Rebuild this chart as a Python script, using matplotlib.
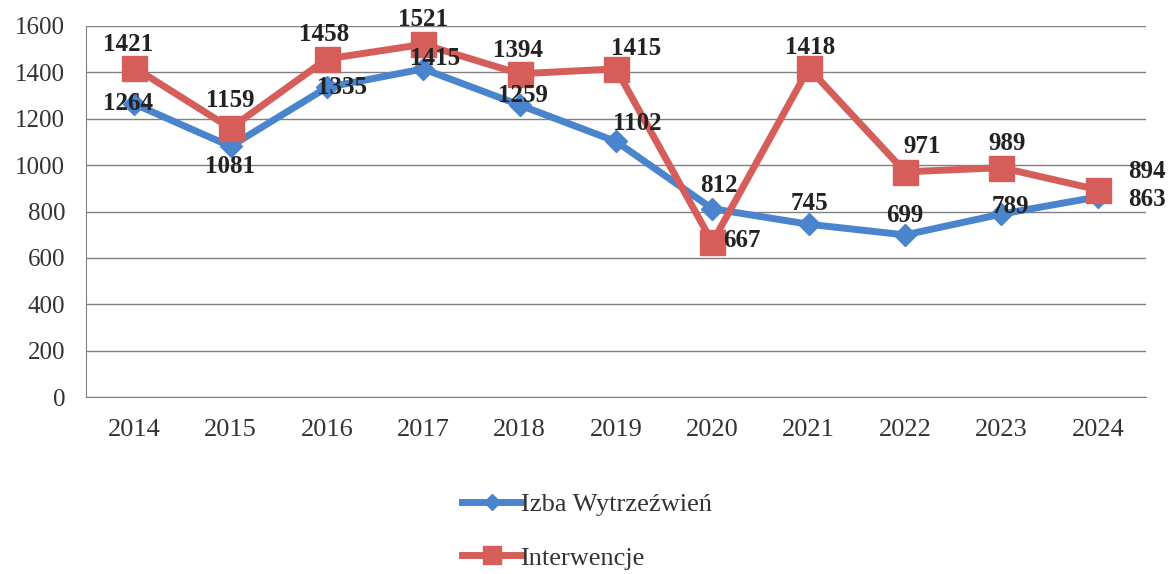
import matplotlib
matplotlib.use("Agg")
import matplotlib.pyplot as plt

years = ["2014", "2015", "2016", "2017", "2018", "2019", "2020", "2021", "2022", "2023", "2024"]
izba = [1264, 1081, 1335, 1415, 1259, 1102, 812, 745, 699, 789, 863]
interwencje = [1421, 1159, 1458, 1521, 1394, 1415, 667, 1418, 971, 989, 894]
yticks = [0, 200, 400, 600, 800, 1000, 1200, 1400, 1600]

# label offsets in pixels (dx, dy up)
off_izba = [(-6, 0), (0, -20), (15, 0), (12, 10), (3, 10), (21, 18), (7, 23), (1, 21), (0, 19), (9, 8), (49, -3)]
off_int = [(-6, 23), (0, 28), (-3, 24), (0, 25), (-2, 23), (20, 20), (30, 2), (1, 21), (17, 25), (6, 24), (49, 18)]

plt.rcParams['font.family'] = ['Liberation Serif', 'DejaVu Serif']
fig = plt.figure(figsize=(11.69, 5.74), dpi=100)
ax = fig.add_axes([86/1169, 1-397/574, (1146-86)/1169, (397-26)/574])

blue = "#4A84CC"
red = "#D65E5A"
x = list(range(len(years)))
l1, = ax.plot(x, izba, color=blue, lw=5, marker="D", markersize=11, label="Izba Wytrzeźwień", zorder=3)
l2, = ax.plot(x, interwencje, color=red, lw=5, marker="s", markersize=18, label="Interwencje", zorder=4)

for i in x:
    dx, dy = off_izba[i]
    ax.annotate(str(izba[i]), (i, izba[i]), xytext=(dx*0.72, dy*0.72), textcoords="offset points",
                ha="center", va="center", fontsize=18, fontweight="bold", color="#222222", zorder=6)
    dx, dy = off_int[i]
    ax.annotate(str(interwencje[i]), (i, interwencje[i]), xytext=(dx*0.72, dy*0.72), textcoords="offset points",
                ha="center", va="center", fontsize=18, fontweight="bold", color="#222222", zorder=6)

ax.set_xlim(-0.5, len(years) - 0.5)
ax.set_ylim(0, 1600)
ax.set_yticks(yticks)
ax.set_xticks(x)
ax.set_xticklabels(years)
ax.tick_params(axis="both", length=0, colors="#333333")
ax.tick_params(axis="x", pad=16, labelsize=19)
ax.tick_params(axis="y", pad=15, labelsize=18)
ax.grid(axis="y", color="#808080", lw=1)
ax.set_axisbelow(True)
for s in ["top", "right"]:
    ax.spines[s].set_visible(False)
ax.spines["left"].set_color("#808080")
ax.spines["bottom"].set_color("#808080")

fig.legend(handles=[l1, l2], loc="center", bbox_to_anchor=(587/1169, 1-531/574), ncol=1, frameon=False,
           fontsize=19, handlelength=2.2, handletextpad=0.0, labelspacing=1.15, markerscale=0.75,
           labelcolor="#333333")

fig.savefig("out.png", dpi=100)
